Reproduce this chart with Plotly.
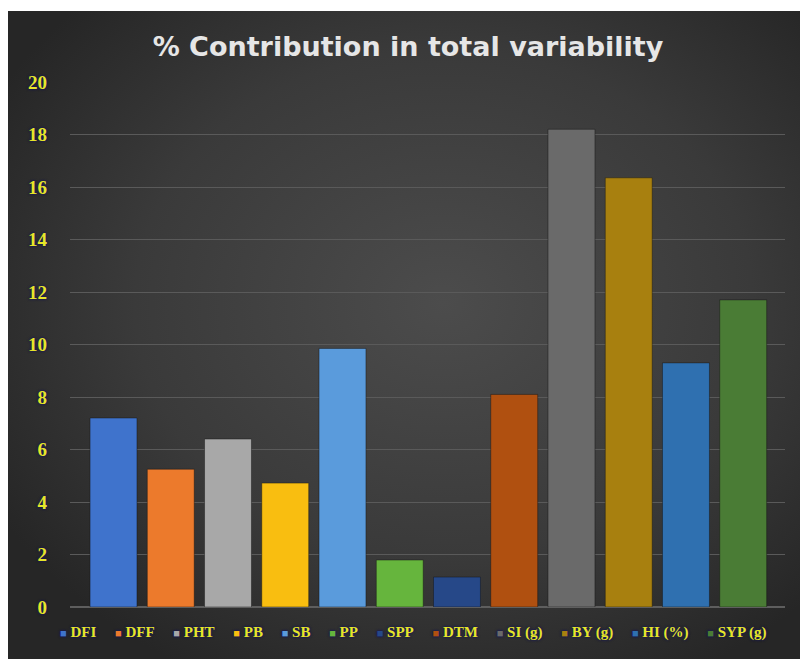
import base64
import plotly.graph_objects as go

# Traits and their share (%) of the total variability
traits = ["DFI", "DFF", "PHT", "PB", "SB", "PP", "SPP", "DTM", "SI (g)", "BY (g)", "HI (%)", "SYP (g)"]
contribution = [7.2, 5.25, 6.4, 4.72, 9.85, 1.79, 1.14, 8.1, 18.2, 16.35, 9.3, 11.7]
bar_colors = ["#3f73cc", "#ec7a2c", "#a8a8a8", "#f9be10", "#5a9bdc", "#66b53d",
              "#264888", "#b05010", "#6a6a6a", "#a8800f", "#2f70b0", "#4a7c35"]
y_ticks = [0, 2, 4, 6, 8, 10, 12, 14, 16, 18, 20]

W, H = 800, 659
ML, MR, MT, MB = 70, 15, 82, 52
PW, PH = W - ML - MR, H - MT - MB

YELLOW = "#e6e628"
GLOW = "0px 0px 3px #14145a, 0px 0px 2px #14145a"

# Radial dark backdrop as an inline SVG
svg = (
    "<svg xmlns='http://www.w3.org/2000/svg' width='792' height='648' viewBox='0 0 792 648' preserveAspectRatio='none'>"
    "<defs><radialGradient id='g' cx='0.55' cy='0.45' r='0.65'>"
    "<stop offset='0' stop-color='#4c4c4c'/><stop offset='0.6' stop-color='#3a3a3a'/>"
    "<stop offset='1' stop-color='#262626'/></radialGradient></defs>"
    "<rect width='792' height='648' fill='url(#g)'/></svg>"
)
svg_uri = "data:image/svg+xml;base64," + base64.b64encode(svg.encode()).decode()

def px_to_paper_x(px):
    return (px - ML) / PW

def px_to_paper_y(py):
    return (H - MB - py) / PH

fig = go.Figure(
    go.Bar(
        x=traits,
        y=contribution,
        marker=dict(color=bar_colors, line=dict(color="rgba(20,20,20,0.45)", width=1)),
        showlegend=False,
        hoverinfo="x+y",
    )
)

# Legend row drawn as coloured squares followed by the trait names
NB = "\u00a0"
legend_parts = []
for name, col in zip(traits, bar_colors):
    legend_parts.append(
        f"<span style='color:{col};font-size:11px'>■</span>{NB}{name}"
    )
legend_text = (NB * 5).join(legend_parts)

fig.update_layout(
    width=W,
    height=H,
    margin=dict(l=ML, r=MR, t=MT, b=MB),
    paper_bgcolor="white",
    plot_bgcolor="rgba(0,0,0,0)",
    bargap=0.18,
    title=dict(
        text="% Contribution in total variability",
        x=408 / W,
        xanchor="center",
        y=1 - 47 / H,
        yanchor="middle",
        yref="container",
        font=dict(family="DejaVu Sans", size=27, color="#e6e6e6", weight="bold"),
    ),
    xaxis=dict(
        showticklabels=False,
        showgrid=False,
        zeroline=False,
        range=[-0.76, 11.73],
    ),
    yaxis=dict(
        range=[0, 20],
        tickvals=y_ticks,
        ticktext=[str(v) for v in y_ticks],
        showgrid=True,
        gridcolor="#5a5a5a",
        gridwidth=1,
        zeroline=True,
        zerolinecolor="#5e5e5e",
        zerolinewidth=1.5,
        ticks="",
        ticklabelstandoff=22,
        tickfont=dict(family="Liberation Serif", size=19, color=YELLOW, weight="bold", shadow=GLOW),
    ),
    images=[
        dict(
            source=svg_uri,
            xref="paper",
            yref="paper",
            x=px_to_paper_x(8),
            y=px_to_paper_y(11),
            sizex=(W - 8) / PW,
            sizey=(H - 11) / PH,
            xanchor="left",
            yanchor="top",
            sizing="stretch",
            layer="below",
        )
    ],
    annotations=[
        dict(
            text=legend_text,
            xref="paper",
            yref="paper",
            x=px_to_paper_x(413),
            y=px_to_paper_y(632),
            xanchor="center",
            yanchor="middle",
            showarrow=False,
            font=dict(family="Liberation Serif", size=15, color=YELLOW, weight="bold", shadow=GLOW),
        )
    ],
)

fig.write_html("out.html")
